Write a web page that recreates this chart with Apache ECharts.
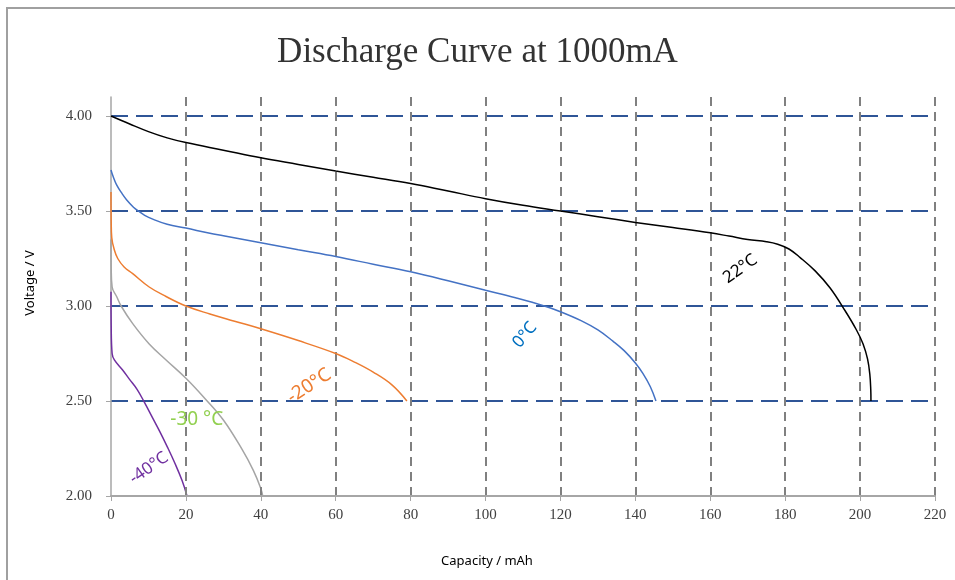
<!DOCTYPE html>
<html>
<head>
<meta charset="utf-8">
<script src="https://cdn.jsdelivr.net/npm/echarts@6/dist/echarts.min.js"></script>
<style>
  html, body { margin: 0; padding: 0; background: #fff; }
  #chart { width: 955px; height: 580px; }
</style>
</head>
<body>
<div id="chart"></div>
<script>
// capacity (mAh), voltage (V)
const curve22 = [[0, 4.00], [5, 3.958], [10, 3.918], [15, 3.885], [20, 3.86], [30, 3.82], [40, 3.78], [50, 3.745],
  [60, 3.71], [70, 3.678], [80, 3.645], [90, 3.605], [100, 3.565], [110, 3.53], [120, 3.50], [130, 3.47],
  [140, 3.44], [150, 3.413], [160, 3.385], [165, 3.368], [170, 3.35], [175, 3.338], [178, 3.325],
  [181, 3.30], [184, 3.255], [188, 3.185], [192, 3.095], [196, 2.975], [199, 2.875], [200.8, 2.80],
  [202, 2.72], [202.6, 2.64], [202.85, 2.56], [202.9, 2.5]];
const curve0 = [[0, 3.716], [0.5, 3.685], [1.5, 3.637], [3, 3.59], [4.2, 3.558], [6, 3.52], [7.3, 3.50], [9, 3.477],
  [11.3, 3.456], [15, 3.43], [20, 3.41], [26.4, 3.383], [30, 3.37], [40, 3.333], [50, 3.296], [60, 3.26],
  [70, 3.22], [80, 3.18], [90, 3.133], [100, 3.083], [108, 3.043], [115.7, 3.0], [120, 2.97], [125.5, 2.923],
  [130, 2.874], [134, 2.815], [137, 2.765], [140, 2.70], [142, 2.645], [144, 2.575], [145.5, 2.5]];
const curveM20 = [[0, 3.60], [0.05, 3.45], [0.2, 3.36], [0.9, 3.295], [1.8, 3.25], [3.5, 3.205], [5.8, 3.17],
  [10.2, 3.10], [14.7, 3.05], [20, 3.0], [26.4, 2.958], [33, 2.92], [40, 2.88], [50, 2.818], [60, 2.75],
  [65, 2.705], [70, 2.652], [75, 2.585], [79, 2.5]];
const curveM30 = [[0, 3.35], [0.05, 3.2], [0.3, 3.10], [1.5, 3.05], [2.7, 3.0], [5.8, 2.907], [10.2, 2.80],
  [14.7, 2.716], [20, 2.62], [25, 2.515], [30, 2.40], [35, 2.245], [38, 2.135], [40, 2.04], [40.5, 2.0]];
const curveM40 = [[0, 3.075], [0.05, 2.9], [0.3, 2.75], [0.9, 2.716], [3.1, 2.663], [4.9, 2.615], [7, 2.56],
  [9, 2.49], [11, 2.415], [13, 2.34], [15, 2.26], [17, 2.175], [19, 2.08], [20.3, 2.0]];

const seriesNames = ['22°C', '0°C', '-20°C', '-30 °C', '-40°C'];
const seriesColors = ['#000000', '#4472c4', '#ed7d31', '#a5a5a5', '#7030a0'];
const labelColors = ['#000000', '#0070c0', '#ed7d31', '#92d050', '#7030a0'];
// where each curve label sits, in data units, and its tilt in degrees
const labelAnchors = [[168, 3.195], [110.5, 2.847], [52.9, 2.579], [22.9, 2.40], [10.1, 2.147]];
const labelTilt = [35, 50, 33, 0, 35];
const labelSizes = [17, 17, 19, 19, 17];

const xTicks = { min: 0, max: 220, step: 20 };
const yTicks = { min: 2, max: 4, step: 0.5 };

var chart = echarts.init(document.getElementById('chart'));

var curves = [curve22, curve0, curveM20, curveM30, curveM40];
var series = curves.map(function (c, i) {
  return {
    name: seriesNames[i],
    type: 'line',
    xAxisIndex: 0,
    yAxisIndex: 0,
    data: c,
    smooth: 0.4,
    showSymbol: false,
    lineStyle: { color: seriesColors[i], width: 1.5 },
    z: 5 - i
  };
});

var option = {
  animation: false,
  title: {
    text: 'Discharge Curve at 1000mA',
    left: 'center',
    top: 30,
    textStyle: { fontFamily: 'Liberation Serif', fontSize: 35, fontWeight: 'normal', color: '#333' }
  },
  grid: [
    { left: 111, right: 20, top: 97, bottom: 84 },
    { left: 111, right: 20, top: 116, bottom: 84 }
  ],
  xAxis: [
    {
      gridIndex: 0, type: 'value', min: xTicks.min, max: xTicks.max, interval: xTicks.step,
      axisLine: { lineStyle: { color: '#a6a6a6', width: 2 } },
      axisTick: { show: true, length: 5, lineStyle: { color: '#a6a6a6' } },
      axisLabel: { fontFamily: 'Liberation Serif', fontSize: 15, color: '#404040', margin: 12 },
      splitLine: { show: true, showMinLine: false, lineStyle: { color: '#808080', width: 2, type: [9, 6] } },
      z: 3
    },
    { gridIndex: 1, type: 'value', min: xTicks.min, max: xTicks.max, show: false }
  ],
  yAxis: [
    {
      gridIndex: 0, type: 'value', min: 2, max: 4.1,
      axisLine: { show: true, lineStyle: { color: '#a6a6a6', width: 1.5 } },
      axisTick: { show: false },
      axisLabel: { show: false },
      splitLine: { show: false }
    },
    {
      gridIndex: 1, type: 'value', min: yTicks.min, max: yTicks.max, interval: yTicks.step,
      axisLine: { show: false },
      axisTick: { show: true, length: 5, lineStyle: { color: '#a6a6a6' } },
      axisLabel: {
        fontFamily: 'Liberation Serif', fontSize: 15, color: '#404040', margin: 19,
        formatter: function (v) { return v.toFixed(2); }
      },
      splitLine: { show: true, showMinLine: false, lineStyle: { color: '#2f5597', width: 2, type: [17, 8] } }
    }
  ],
  series: series
};
chart.setOption(option);

// curve labels, placed through the axes, and frame / axis names
var texts = labelAnchors.map(function (a, i) {
  var p = chart.convertToPixel({ gridIndex: 0 }, a);
  return {
    type: 'text',
    x: p[0], y: p[1],
    rotation: labelTilt[i] * Math.PI / 180,
    style: {
      text: seriesNames[i], fill: labelColors[i], font: labelSizes[i] + 'px "Noto Sans"',
      align: 'center', verticalAlign: 'middle'
    },
    z: 10
  };
});
texts.push({
  type: 'rect', shape: { x: 7, y: 8, width: 1000, height: 700 },
  style: { fill: 'none', stroke: '#a0a0a0', lineWidth: 2 }, silent: true
});
texts.push({
  type: 'text', x: 30, y: 283, rotation: Math.PI / 2,
  style: { text: 'Voltage / V', fill: '#000', font: '13px "Noto Sans"', align: 'center', verticalAlign: 'middle' }
});
texts.push({
  type: 'text', x: 487, y: 561,
  style: { text: 'Capacity / mAh', fill: '#000', font: '13px "Noto Sans"', align: 'center', verticalAlign: 'middle' }
});
chart.setOption({ graphic: texts });
</script>
</body>
</html>
